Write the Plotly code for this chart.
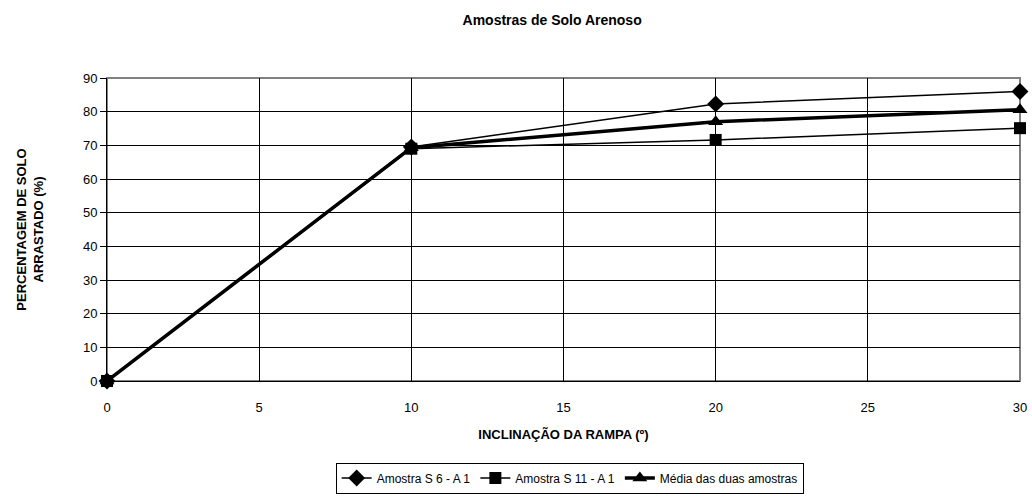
import plotly.graph_objects as go

inclinacao = [0, 10, 20, 30]
amostra_s6 = [0, 69.5, 82.3, 86.0]
amostra_s11 = [0, 69.0, 71.6, 75.1]
media = [0, 69.3, 77.0, 80.6]

font = "Liberation Sans, Arial, sans-serif"

fig = go.Figure()
fig.add_trace(go.Scatter(
    x=inclinacao, y=amostra_s6, name="Amostra S 6 - A 1",
    mode="lines+markers", line=dict(color="black", width=1.5), cliponaxis=False,
    marker=dict(symbol="diamond", size=13, color="black"),
))
fig.add_trace(go.Scatter(
    x=inclinacao, y=amostra_s11, name="Amostra S 11 - A 1",
    mode="lines+markers", line=dict(color="black", width=1.5), cliponaxis=False,
    marker=dict(symbol="square", size=12, color="black"),
))
fig.add_trace(go.Scatter(
    x=inclinacao, y=media, name="Média das duas amostras",
    mode="lines+markers", line=dict(color="black", width=3.5), cliponaxis=False,
    marker=dict(symbol="triangle-up", size=13, color="black"),
))

fig.update_layout(
    width=1032, height=496,
    margin=dict(l=107, r=12, t=78, b=115, autoexpand=False),
    paper_bgcolor="white", plot_bgcolor="white",
    font=dict(family=font, size=13, color="black"),
    title=dict(text="<b>Amostras de Solo Arenoso</b>", x=0.535, xanchor="center",
               xref="container", yref="container", y=0.96, yanchor="middle",
               font=dict(size=14)),
    showlegend=True,
    legend=dict(orientation="h", x=0.552, xanchor="center", xref="container",
                y=0.005, yanchor="bottom", yref="container",
                bordercolor="black", borderwidth=1, font=dict(size=12),
                itemwidth=30, tracegroupgap=0),
    xaxis=dict(range=[0, 30], dtick=5, showgrid=True, gridcolor="black", gridwidth=1,
               zeroline=False, showline=True, linecolor="black", automargin=False,
               ticks="outside", ticklen=14, tickcolor="rgba(0,0,0,0)", tickfont=dict(size=13),
               title=dict(text="<b>INCLINAÇÃO DA RAMPA (º)</b>", font=dict(size=13), standoff=16)),
    yaxis=dict(range=[0, 90], dtick=10, showgrid=True, gridcolor="black", gridwidth=1,
               zeroline=False, showline=True, linecolor="black", automargin=False,
               ticks="outside", ticklen=6, tickcolor="black", tickfont=dict(size=13),
               title=dict(text="<b>PERCENTAGEM DE SOLO<br>ARRASTADO (%)</b>", font=dict(size=13), standoff=36)),
)

# grey frame on the top and right of the plot area
fig.add_shape(type="rect", xref="paper", yref="paper", x0=0, y0=0, x1=1, y1=1,
              line=dict(color="#808080", width=2), layer="below")

# drop the browser's default page margin so the figure sits at (0, 0)
fig.write_html("out.html", config={"displayModeBar": False},
               post_script="document.body.style.margin='0';")
